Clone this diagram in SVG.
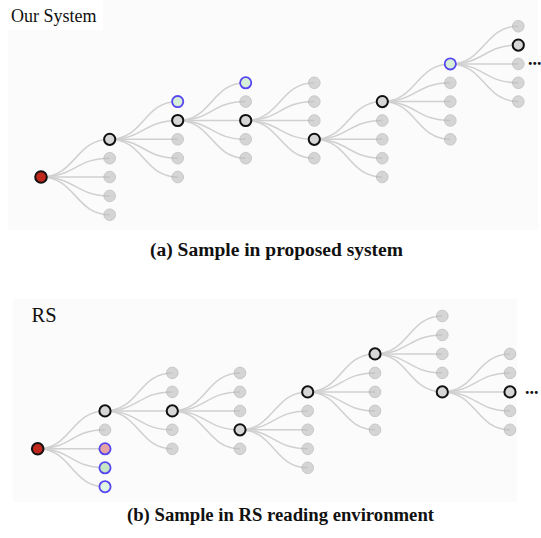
<svg xmlns="http://www.w3.org/2000/svg" width="541" height="538" viewBox="0 0 541 538">
  <style>
    .panel { fill: #fbfbfb; }
    .title { font-family: "Liberation Serif", "Times New Roman", serif; fill: #111; }
    .caption { font-family: "Liberation Serif", "Times New Roman", serif; font-weight: bold; font-size: 18px; fill: #111; }
    .more { font-family: "Liberation Serif", "Times New Roman", serif; font-weight: bold; font-size: 18px; fill: #111; }
    .e { fill: none; stroke: #d0d0d0; stroke-width: 1.5; }
    .n circle { fill: #bdbdbd; stroke: #a6a6a6; stroke-width: 1; opacity: 0.6; }
    .s circle { fill: #d6d6d6; stroke: #111; stroke-width: 2; }
    .b circle { fill: #d6eed6; stroke: #5546f0; stroke-width: 1.8; }
    .root circle { fill: #c0271d; stroke: #111; stroke-width: 2; }
  </style>

  <!-- panel backgrounds -->
  <rect class="panel" x="8" y="0" width="530" height="230"/>
  <rect x="0" y="0" width="103" height="30" fill="#ffffff"/>
  <rect class="panel" x="13" y="299" width="504" height="203"/>
  <text class="title" x="11" y="22" font-size="18">Our System</text>
  <text class="title" x="31.5" y="322" font-size="20.5">RS</text>

  <!-- ===== (a) proposed system ===== -->
  <g id="edges-a">
    <path class="e" d="M41,177 C75.4,177 75.4,139.3 109.7,139.3"/>
    <path class="e" d="M41,177 C75.4,177 75.4,158.2 109.7,158.2"/>
    <path class="e" d="M41,177 C75.4,177 75.4,177 109.7,177"/>
    <path class="e" d="M41,177 C75.4,177 75.4,195.9 109.7,195.9"/>
    <path class="e" d="M41,177 C75.4,177 75.4,214.7 109.7,214.7"/>

    <path class="e" d="M109.7,139.3 C143.7,139.3 143.7,101.6 177.7,101.6"/>
    <path class="e" d="M109.7,139.3 C143.7,139.3 143.7,120.5 177.7,120.5"/>
    <path class="e" d="M109.7,139.3 C143.7,139.3 143.7,139.3 177.7,139.3"/>
    <path class="e" d="M109.7,139.3 C143.7,139.3 143.7,158.2 177.7,158.2"/>
    <path class="e" d="M109.7,139.3 C143.7,139.3 143.7,177 177.7,177"/>

    <path class="e" d="M177.7,120.5 C211.7,120.5 211.7,82.8 245.7,82.8"/>
    <path class="e" d="M177.7,120.5 C211.7,120.5 211.7,101.6 245.7,101.6"/>
    <path class="e" d="M177.7,120.5 C211.7,120.5 211.7,120.5 245.7,120.5"/>
    <path class="e" d="M177.7,120.5 C211.7,120.5 211.7,139.3 245.7,139.3"/>
    <path class="e" d="M177.7,120.5 C211.7,120.5 211.7,158.2 245.7,158.2"/>

    <path class="e" d="M245.7,120.5 C280,120.5 280,82.8 314.3,82.8"/>
    <path class="e" d="M245.7,120.5 C280,120.5 280,101.6 314.3,101.6"/>
    <path class="e" d="M245.7,120.5 C280,120.5 280,120.5 314.3,120.5"/>
    <path class="e" d="M245.7,120.5 C280,120.5 280,139.3 314.3,139.3"/>
    <path class="e" d="M245.7,120.5 C280,120.5 280,158.2 314.3,158.2"/>

    <path class="e" d="M314.3,139.3 C348.3,139.3 348.3,101.6 382.3,101.6"/>
    <path class="e" d="M314.3,139.3 C348.3,139.3 348.3,120.5 382.3,120.5"/>
    <path class="e" d="M314.3,139.3 C348.3,139.3 348.3,139.3 382.3,139.3"/>
    <path class="e" d="M314.3,139.3 C348.3,139.3 348.3,158.2 382.3,158.2"/>
    <path class="e" d="M314.3,139.3 C348.3,139.3 348.3,177 382.3,177"/>

    <path class="e" d="M382.3,101.6 C416.3,101.6 416.3,63.9 450.3,63.9"/>
    <path class="e" d="M382.3,101.6 C416.3,101.6 416.3,82.8 450.3,82.8"/>
    <path class="e" d="M382.3,101.6 C416.3,101.6 416.3,101.6 450.3,101.6"/>
    <path class="e" d="M382.3,101.6 C416.3,101.6 416.3,120.5 450.3,120.5"/>
    <path class="e" d="M382.3,101.6 C416.3,101.6 416.3,139.3 450.3,139.3"/>

    <path class="e" d="M450.3,63.9 C484.3,63.9 484.3,26.2 518.3,26.2"/>
    <path class="e" d="M450.3,63.9 C484.3,63.9 484.3,45.1 518.3,45.1"/>
    <path class="e" d="M450.3,63.9 C484.3,63.9 484.3,63.9 518.3,63.9"/>
    <path class="e" d="M450.3,63.9 C484.3,63.9 484.3,82.8 518.3,82.8"/>
    <path class="e" d="M450.3,63.9 C484.3,63.9 484.3,101.6 518.3,101.6"/>
  </g>

  <g id="nodes-a">
    <g id="a0" class="root"><circle cx="41" cy="177" r="5.8"/></g>

    <g id="a1-1" class="s"><circle cx="109.7" cy="139.3" r="5.6"/></g>
    <g id="a1-2" class="n"><circle cx="109.7" cy="158.2" r="5.8"/></g>
    <g id="a1-3" class="n"><circle cx="109.7" cy="177" r="5.8"/></g>
    <g id="a1-4" class="n"><circle cx="109.7" cy="195.9" r="5.8"/></g>
    <g id="a1-5" class="n"><circle cx="109.7" cy="214.7" r="5.8"/></g>

    <g id="a2-1" class="b"><circle cx="177.7" cy="101.6" r="5.6"/></g>
    <g id="a2-2" class="s"><circle cx="177.7" cy="120.5" r="5.6"/></g>
    <g id="a2-3" class="n"><circle cx="177.7" cy="139.3" r="5.8"/></g>
    <g id="a2-4" class="n"><circle cx="177.7" cy="158.2" r="5.8"/></g>
    <g id="a2-5" class="n"><circle cx="177.7" cy="177" r="5.8"/></g>

    <g id="a3-1" class="b"><circle cx="245.7" cy="82.8" r="5.6"/></g>
    <g id="a3-2" class="n"><circle cx="245.7" cy="101.6" r="5.8"/></g>
    <g id="a3-3" class="s"><circle cx="245.7" cy="120.5" r="5.6"/></g>
    <g id="a3-4" class="n"><circle cx="245.7" cy="139.3" r="5.8"/></g>
    <g id="a3-5" class="n"><circle cx="245.7" cy="158.2" r="5.8"/></g>

    <g id="a4-1" class="n"><circle cx="314.3" cy="82.8" r="5.8"/></g>
    <g id="a4-2" class="n"><circle cx="314.3" cy="101.6" r="5.8"/></g>
    <g id="a4-3" class="n"><circle cx="314.3" cy="120.5" r="5.8"/></g>
    <g id="a4-4" class="s"><circle cx="314.3" cy="139.3" r="5.6"/></g>
    <g id="a4-5" class="n"><circle cx="314.3" cy="158.2" r="5.8"/></g>

    <g id="a5-1" class="s"><circle cx="382.3" cy="101.6" r="5.6"/></g>
    <g id="a5-2" class="n"><circle cx="382.3" cy="120.5" r="5.8"/></g>
    <g id="a5-3" class="n"><circle cx="382.3" cy="139.3" r="5.8"/></g>
    <g id="a5-4" class="n"><circle cx="382.3" cy="158.2" r="5.8"/></g>
    <g id="a5-5" class="n"><circle cx="382.3" cy="177" r="5.8"/></g>

    <g id="a6-1" class="b"><circle cx="450.3" cy="63.9" r="5.6"/></g>
    <g id="a6-2" class="n"><circle cx="450.3" cy="82.8" r="5.8"/></g>
    <g id="a6-3" class="n"><circle cx="450.3" cy="101.6" r="5.8"/></g>
    <g id="a6-4" class="n"><circle cx="450.3" cy="120.5" r="5.8"/></g>
    <g id="a6-5" class="n"><circle cx="450.3" cy="139.3" r="5.8"/></g>

    <g id="a7-1" class="n"><circle cx="518.3" cy="26.2" r="5.8"/></g>
    <g id="a7-2" class="s"><circle cx="518.3" cy="45.1" r="5.6"/></g>
    <g id="a7-3" class="n"><circle cx="518.3" cy="63.9" r="5.8"/></g>
    <g id="a7-4" class="n"><circle cx="518.3" cy="82.8" r="5.8"/></g>
    <g id="a7-5" class="n"><circle cx="518.3" cy="101.6" r="5.8"/></g>
  </g>
  <text class="more" x="528" y="65" font-size="16">...</text>

  <text class="caption" x="150" y="256" textLength="253" lengthAdjust="spacingAndGlyphs">(a) Sample in proposed system</text>

  <!-- ===== (b) RS reading environment ===== -->
  <g id="edges-b">
    <path class="e" d="M37.7,448.8 C71.4,448.8 71.4,410.9 105,410.9"/>
    <path class="e" d="M37.7,448.8 C71.4,448.8 71.4,429.8 105,429.8"/>
    <path class="e" d="M37.7,448.8 C71.4,448.8 71.4,448.8 105,448.8"/>
    <path class="e" d="M37.7,448.8 C71.4,448.8 71.4,467.8 105,467.8"/>
    <path class="e" d="M37.7,448.8 C71.4,448.8 71.4,486.7 105,486.7"/>

    <path class="e" d="M105,410.9 C138.7,410.9 138.7,372.9 172.3,372.9"/>
    <path class="e" d="M105,410.9 C138.7,410.9 138.7,391.9 172.3,391.9"/>
    <path class="e" d="M105,410.9 C138.7,410.9 138.7,410.9 172.3,410.9"/>
    <path class="e" d="M105,410.9 C138.7,410.9 138.7,429.8 172.3,429.8"/>
    <path class="e" d="M105,410.9 C138.7,410.9 138.7,448.8 172.3,448.8"/>

    <path class="e" d="M172.3,410.9 C206.2,410.9 206.2,372.9 240,372.9"/>
    <path class="e" d="M172.3,410.9 C206.2,410.9 206.2,391.9 240,391.9"/>
    <path class="e" d="M172.3,410.9 C206.2,410.9 206.2,410.9 240,410.9"/>
    <path class="e" d="M172.3,410.9 C206.2,410.9 206.2,429.8 240,429.8"/>
    <path class="e" d="M172.3,410.9 C206.2,410.9 206.2,448.8 240,448.8"/>

    <path class="e" d="M240,429.8 C273.9,429.8 273.9,391.9 307.7,391.9"/>
    <path class="e" d="M240,429.8 C273.9,429.8 273.9,410.9 307.7,410.9"/>
    <path class="e" d="M240,429.8 C273.9,429.8 273.9,429.8 307.7,429.8"/>
    <path class="e" d="M240,429.8 C273.9,429.8 273.9,448.8 307.7,448.8"/>
    <path class="e" d="M240,429.8 C273.9,429.8 273.9,467.8 307.7,467.8"/>

    <path class="e" d="M307.7,391.9 C341.4,391.9 341.4,353.9 375,353.9"/>
    <path class="e" d="M307.7,391.9 C341.4,391.9 341.4,372.9 375,372.9"/>
    <path class="e" d="M307.7,391.9 C341.4,391.9 341.4,391.9 375,391.9"/>
    <path class="e" d="M307.7,391.9 C341.4,391.9 341.4,410.9 375,410.9"/>
    <path class="e" d="M307.7,391.9 C341.4,391.9 341.4,429.8 375,429.8"/>

    <path class="e" d="M375,353.9 C408.7,353.9 408.7,316 442.3,316"/>
    <path class="e" d="M375,353.9 C408.7,353.9 408.7,335 442.3,335"/>
    <path class="e" d="M375,353.9 C408.7,353.9 408.7,353.9 442.3,353.9"/>
    <path class="e" d="M375,353.9 C408.7,353.9 408.7,372.9 442.3,372.9"/>
    <path class="e" d="M375,353.9 C408.7,353.9 408.7,391.9 442.3,391.9"/>

    <path class="e" d="M442.3,391.9 C476.2,391.9 476.2,353.9 510,353.9"/>
    <path class="e" d="M442.3,391.9 C476.2,391.9 476.2,372.9 510,372.9"/>
    <path class="e" d="M442.3,391.9 C476.2,391.9 476.2,391.9 510,391.9"/>
    <path class="e" d="M442.3,391.9 C476.2,391.9 476.2,410.9 510,410.9"/>
    <path class="e" d="M442.3,391.9 C476.2,391.9 476.2,429.8 510,429.8"/>
  </g>

  <g id="nodes-b">
    <g id="b0" class="root"><circle cx="37.7" cy="448.8" r="5.8"/></g>

    <g id="b1-1" class="s"><circle cx="105" cy="410.9" r="5.6"/></g>
    <g id="b1-2" class="n"><circle cx="105" cy="429.8" r="5.8"/></g>
    <g id="b1-3" class="b"><circle cx="105" cy="448.8" r="5.6" style="fill:#e6a3a3"/></g>
    <g id="b1-4" class="b"><circle cx="105" cy="467.8" r="5.6" style="fill:#c6e6c6"/></g>
    <g id="b1-5" class="b"><circle cx="105" cy="486.7" r="5.6" style="fill:#e2f4e2"/></g>

    <g id="b2-1" class="n"><circle cx="172.3" cy="372.9" r="5.8"/></g>
    <g id="b2-2" class="n"><circle cx="172.3" cy="391.9" r="5.8"/></g>
    <g id="b2-3" class="s"><circle cx="172.3" cy="410.9" r="5.6"/></g>
    <g id="b2-4" class="n"><circle cx="172.3" cy="429.8" r="5.8"/></g>
    <g id="b2-5" class="n"><circle cx="172.3" cy="448.8" r="5.8"/></g>

    <g id="b3-1" class="n"><circle cx="240" cy="372.9" r="5.8"/></g>
    <g id="b3-2" class="n"><circle cx="240" cy="391.9" r="5.8"/></g>
    <g id="b3-3" class="n"><circle cx="240" cy="410.9" r="5.8"/></g>
    <g id="b3-4" class="s"><circle cx="240" cy="429.8" r="5.6"/></g>
    <g id="b3-5" class="n"><circle cx="240" cy="448.8" r="5.8"/></g>

    <g id="b4-1" class="s"><circle cx="307.7" cy="391.9" r="5.6"/></g>
    <g id="b4-2" class="n"><circle cx="307.7" cy="410.9" r="5.8"/></g>
    <g id="b4-3" class="n"><circle cx="307.7" cy="429.8" r="5.8"/></g>
    <g id="b4-4" class="n"><circle cx="307.7" cy="448.8" r="5.8"/></g>
    <g id="b4-5" class="n"><circle cx="307.7" cy="467.8" r="5.8"/></g>

    <g id="b5-1" class="s"><circle cx="375" cy="353.9" r="5.6"/></g>
    <g id="b5-2" class="n"><circle cx="375" cy="372.9" r="5.8"/></g>
    <g id="b5-3" class="n"><circle cx="375" cy="391.9" r="5.8"/></g>
    <g id="b5-4" class="n"><circle cx="375" cy="410.9" r="5.8"/></g>
    <g id="b5-5" class="n"><circle cx="375" cy="429.8" r="5.8"/></g>

    <g id="b6-1" class="n"><circle cx="442.3" cy="316" r="5.8"/></g>
    <g id="b6-2" class="n"><circle cx="442.3" cy="335" r="5.8"/></g>
    <g id="b6-3" class="n"><circle cx="442.3" cy="353.9" r="5.8"/></g>
    <g id="b6-4" class="n"><circle cx="442.3" cy="372.9" r="5.8"/></g>
    <g id="b6-5" class="s"><circle cx="442.3" cy="391.9" r="5.6"/></g>

    <g id="b7-1" class="n"><circle cx="510" cy="353.9" r="5.8"/></g>
    <g id="b7-2" class="n"><circle cx="510" cy="372.9" r="5.8"/></g>
    <g id="b7-3" class="s"><circle cx="510" cy="391.9" r="5.6"/></g>
    <g id="b7-4" class="n"><circle cx="510" cy="410.9" r="5.8"/></g>
    <g id="b7-5" class="n"><circle cx="510" cy="429.8" r="5.8"/></g>
  </g>
  <text class="more" x="525" y="394">...</text>

  <text class="caption" x="127" y="521" textLength="307" lengthAdjust="spacingAndGlyphs">(b) Sample in RS reading environment</text>
</svg>
